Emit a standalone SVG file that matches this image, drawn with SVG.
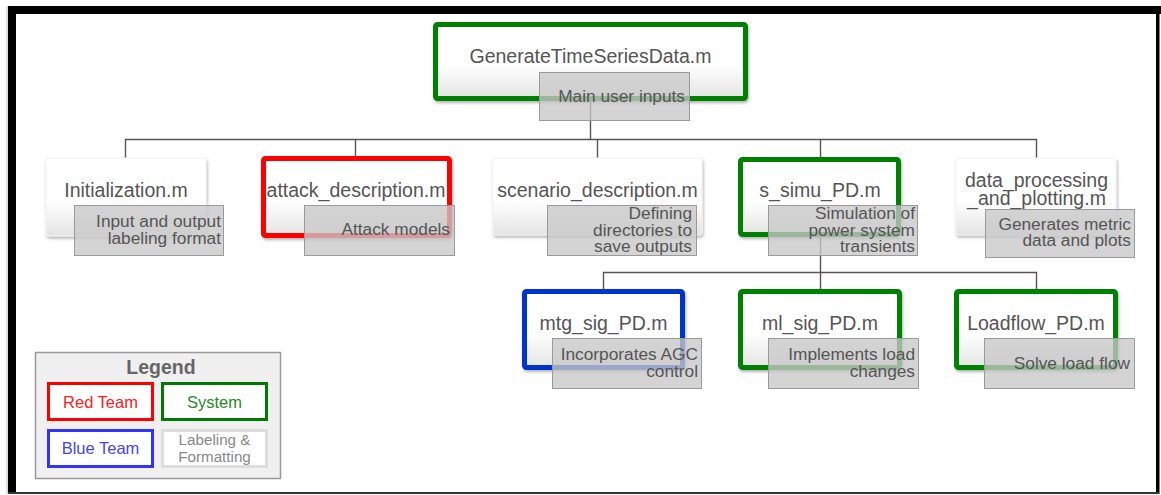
<svg xmlns="http://www.w3.org/2000/svg" width="1161" height="495" viewBox="0 0 1161 495">
<defs>
<linearGradient id="nodeFill" x1="0" y1="0" x2="0" y2="1">
<stop offset="0" stop-color="#ffffff"/>
<stop offset="0.55" stop-color="#ffffff"/>
<stop offset="1" stop-color="#e4e4e4"/>
</linearGradient>
<filter id="shadow" x="-10%" y="-10%" width="130%" height="140%">
<feDropShadow dx="1" dy="2" stdDeviation="1.5" flood-color="#000" flood-opacity="0.3"/>
</filter>
<style>
.node{fill:url(#nodeFill);filter:url(#shadow)}
.plain{stroke:#f2f2f2;stroke-width:1}
.green{stroke:#008000;stroke-width:5}
.red{stroke:#ff0000;stroke-width:5}
.blue{stroke:#0033cc;stroke-width:5}
.ntext{font-family:"Liberation Sans",Arial,sans-serif;font-size:19.5px;fill:#555;text-anchor:middle}
.lbox{fill:#c8c8c8;fill-opacity:0.78;stroke:#9a9a9a;stroke-width:1}
.ltext{font-family:"Liberation Sans",Arial,sans-serif;font-size:17.3px;fill:#555;text-anchor:end}
.conn{fill:none;stroke:#555;stroke-width:1.4}
.legtext{font-family:"Liberation Sans",Arial,sans-serif;text-anchor:middle}
</style>
</defs>
<rect x="0" y="0" width="1161" height="495" fill="#fff"/>
<g id="frame">
<rect x="6.5" y="6" width="1" height="488" fill="#bbb"/>
<rect x="8" y="6" width="1153" height="8" fill="#000"/>
<rect x="8" y="6" width="8" height="488" fill="#000"/>
<rect x="1156" y="6" width="3.5" height="488" fill="#000"/>
<rect x="8" y="492" width="1151" height="2" fill="#333"/>
</g>
<g id="connectors" class="conn">
<path d="M590.5 101 V139.5"/>
<path d="M125.5 158 V139.5 H1036.5 V158"/>
<path d="M355.5 139.5 V156"/>
<path d="M597.5 139.5 V158"/>
<path d="M820.5 139.5 V157"/>
<path d="M820.5 237 V272.5"/>
<path d="M603.5 289 V272.5 H1036.5 V289"/>
<path d="M820.5 272.5 V289"/>
</g>
<g id="n-generate">
<rect class="node green" x="435.5" y="24.5" width="310" height="74" rx="2"/>
<text class="ntext" x="590.5" y="63">GenerateTimeSeriesData.m</text>
<rect class="lbox" x="539.5" y="72.5" width="150" height="48"/>
<text class="ltext" x="685" y="102">Main user inputs</text>
</g>
<g id="n-init">
<rect class="node plain" x="46" y="158" width="160" height="78" rx="2"/>
<text class="ntext" x="126" y="197">Initialization.m</text>
<rect class="lbox" x="74.5" y="205.5" width="149" height="50"/>
<text class="ltext" x="221" y="227">Input and output</text>
<text class="ltext" x="221" y="244">labeling format</text>
</g>
<g id="n-attack">
<rect class="node red" x="263.5" y="158.5" width="186" height="77" rx="2"/>
<text class="ntext" x="356" y="197">attack_description.m</text>
<rect class="lbox" x="304.5" y="205.5" width="150" height="50"/>
<text class="ltext" x="450" y="235">Attack models</text>
</g>
<g id="n-scenario">
<rect class="node plain" x="493" y="158" width="209" height="77" rx="2"/>
<text class="ntext" x="597.5" y="197">scenario_description.m</text>
<rect class="lbox" x="547.5" y="205.5" width="149" height="50"/>
<text class="ltext" x="692" y="219">Defining</text>
<text class="ltext" x="692" y="236">directories to</text>
<text class="ltext" x="692" y="252">save outputs</text>
</g>
<g id="n-ssimu">
<rect class="node green" x="740.5" y="159.5" width="158" height="75" rx="2"/>
<text class="ntext" x="820" y="197">s_simu_PD.m</text>
<rect class="lbox" x="768.5" y="205.5" width="149" height="50"/>
<text class="ltext" x="915" y="219">Simulation of</text>
<text class="ltext" x="915" y="236">power system</text>
<text class="ltext" x="915" y="252">transients</text>
</g>
<g id="n-dataproc">
<rect class="node plain" x="956" y="158" width="160" height="77" rx="2"/>
<text class="ntext" x="1036.5" y="187">data_processing</text>
<text class="ntext" x="1036.5" y="205">_and_plotting.m</text>
<rect class="lbox" x="985.5" y="209.5" width="149" height="48"/>
<text class="ltext" x="1131" y="230">Generates metric</text>
<text class="ltext" x="1131" y="246">data and plots</text>
</g>
<g id="n-mtg">
<rect class="node blue" x="524.5" y="291.5" width="158" height="76" rx="2"/>
<text class="ntext" x="603.5" y="330">mtg_sig_PD.m</text>
<rect class="lbox" x="552.5" y="338.5" width="149" height="50"/>
<text class="ltext" x="698" y="360">Incorporates AGC</text>
<text class="ltext" x="698" y="377">control</text>
</g>
<g id="n-ml">
<rect class="node green" x="740.5" y="291.5" width="159" height="76" rx="2"/>
<text class="ntext" x="820" y="330">ml_sig_PD.m</text>
<rect class="lbox" x="768.5" y="338.5" width="150" height="50"/>
<text class="ltext" x="915" y="360">Implements load</text>
<text class="ltext" x="915" y="377">changes</text>
</g>
<g id="n-loadflow">
<rect class="node green" x="956.5" y="291.5" width="159" height="76" rx="2"/>
<text class="ntext" x="1036" y="330">Loadflow_PD.m</text>
<rect class="lbox" x="984.5" y="338.5" width="150" height="50"/>
<text class="ltext" x="1130" y="369">Solve load flow</text>
</g>
<g id="legend">
<rect x="35.5" y="352.5" width="245" height="126" fill="#f0f0f0" stroke="#999" stroke-width="1.5"/>
<text class="legtext" x="161" y="374" font-size="19.5" font-weight="bold" fill="#666">Legend</text>
<rect x="48.5" y="383.5" width="104" height="36" fill="#fff" stroke="#ff0000" stroke-width="3"/>
<text class="legtext" x="100.5" y="407.5" font-size="16.5" fill="#ff2020">Red Team</text>
<rect x="162.5" y="383.5" width="104" height="36" fill="#fff" stroke="#007a00" stroke-width="3"/>
<text class="legtext" x="214.5" y="407.5" font-size="16.5" fill="#2a8a2a">System</text>
<rect x="48.5" y="430.5" width="104" height="36" fill="#fff" stroke="#3333ff" stroke-width="3"/>
<text class="legtext" x="100.5" y="454" font-size="16.5" fill="#4444ee">Blue Team</text>
<rect x="162.5" y="430.5" width="104" height="36" fill="#fff" stroke="#dddddd" stroke-width="3"/>
<text class="legtext" x="214.5" y="445" font-size="15.2" fill="#888">Labeling &amp;</text>
<text class="legtext" x="214.5" y="462" font-size="15.2" fill="#888">Formatting</text>
</g>
</svg>
